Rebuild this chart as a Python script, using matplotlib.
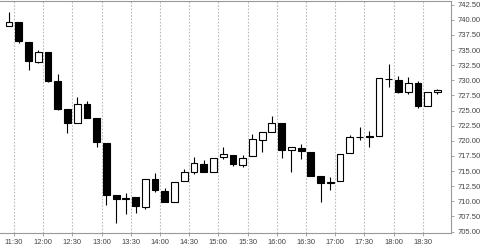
import numpy as np
import matplotlib
matplotlib.use('Agg')
import matplotlib.pyplot as plt

plt.rcParams['font.family'] = ['Liberation Sans', 'DejaVu Sans']

# 10-minute candles, values
opens = [738.9, 739.66, 736.4, 733.1, 734.65, 729.8, 725.2, 722.9, 726.06, 723.7,
         719.6, 711.07, 710.4, 710.7, 709.13, 713.66, 711.7, 709.96, 713.4, 714.8,
         716.2, 714.87, 717.3, 717.7, 716.0, 717.5, 720.16, 721.5, 723.0, 718.5,
         718.8, 718.2, 714.2, 713.0, 713.4, 717.96, 720.55, 720.8, 720.8, 730.15,
         730.07, 728.14, 729.5, 725.8, 728.04]
highs = [741.3, 739.66, 736.4, 735.0, 734.65, 731.1, 725.2, 727.2, 726.6, 723.7,
         719.6, 711.07, 711.35, 710.7, 713.66, 714.65, 712.2, 713.26, 715.3, 717.3,
         716.85, 717.1, 719.05, 717.7, 717.7, 721.1, 721.43, 724.1, 723.0, 718.9,
         719.5, 718.2, 714.2, 714.1, 717.84, 721.0, 722.2, 721.65, 730.35, 732.7,
         730.7, 730.6, 729.8, 728.0, 728.5]
lows = [738.9, 736.2, 731.7, 732.9, 729.7, 725.1, 721.3, 722.9, 723.7, 719.05,
        709.4, 706.4, 707.9, 708.1, 708.8, 711.6, 709.96, 709.96, 713.4, 714.5,
        714.87, 714.87, 717.0, 715.9, 715.6, 717.5, 718.2, 721.5, 717.13, 714.9,
        717.0, 714.2, 709.96, 711.9, 713.4, 717.96, 720.15, 718.95, 720.8, 728.97,
        727.9, 727.7, 725.5, 725.8, 727.65]
closes = [739.66, 736.47, 733.17, 734.65, 729.9, 725.2, 722.9, 726.06, 723.7, 719.8,
          711.07, 710.36, 710.6, 709.25, 713.66, 711.8, 709.96, 713.26, 714.8, 716.3,
          714.87, 717.1, 717.84, 716.1, 717.13, 720.27, 721.43, 723.0, 718.5, 718.9,
          718.3, 714.2, 713.0, 713.26, 717.84, 720.6, 720.65, 720.6, 730.35, 730.25,
          728.14, 729.63, 725.8, 728.0, 728.4]

tick_labels = ['11:30', '12:00', '12:30', '13:00', '13:30', '14:00', '14:30', '15:00',
               '15:30', '16:00', '16:30', '17:00', '17:30', '18:00', '18:30']

x = np.arange(len(opens))
o = np.array(opens)
c = np.array(closes)
up = c >= o

fig = plt.figure(figsize=(4.8, 2.47), dpi=100)
ax = fig.add_axes([0, 0.057, 0.9396, 0.939])

# wicks
ax.vlines(x, lows, highs, color='black', linewidth=0.8, zorder=2)
# bodies
bottom = np.minimum(o, c)
height = np.maximum(np.abs(c - o), 0.05)
ax.bar(x[up], height[up], bottom=bottom[up], width=0.7, color='white',
       edgecolor='black', linewidth=0.8, zorder=3)
ax.bar(x[~up], height[~up], bottom=bottom[~up], width=0.7, color='black',
       edgecolor='black', linewidth=0.8, zorder=3)

tick_pos = 0.5 + 3 * np.arange(len(tick_labels))
ax.set_xticks(tick_pos)
ax.set_xticklabels(tick_labels)
ax.set_xlim(-0.93, 45.4)
ax.set_ylim(704.78, 743.1)
yt = np.arange(705, 743, 2.5)
ax.set_yticks(yt)
ax.set_yticklabels(['%.2f' % v for v in yt])

ax.yaxis.tick_right()
ax.grid(axis='x', color='#bbbbbb', linestyle=(0, (1.5, 1.5)), linewidth=0.8)
ax.set_axisbelow(True)
ax.spines['left'].set_visible(False)
for s in ['top', 'right', 'bottom']:
    ax.spines[s].set_color('#999999')
    ax.spines[s].set_linewidth(0.8)
ax.tick_params(axis='both', colors='#999999', labelcolor='#444444', labelsize=5.5,
               length=2.5, width=0.6, pad=2)

fig.savefig('out.png', dpi=100)
